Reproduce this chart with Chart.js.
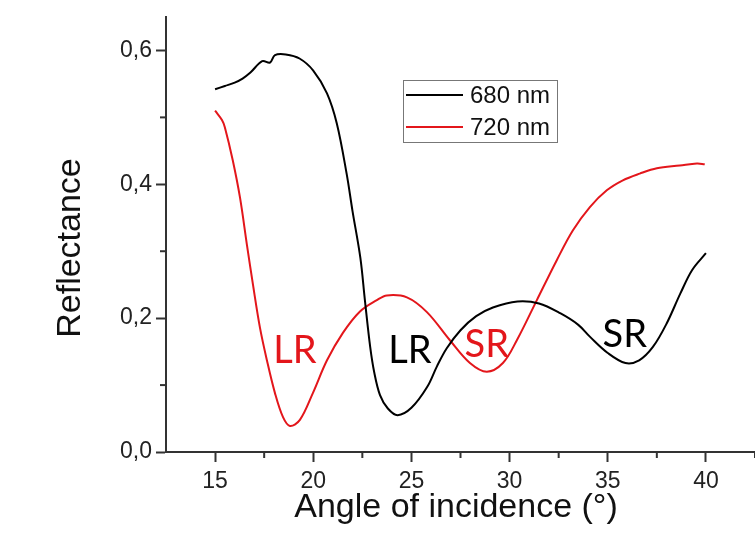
<!DOCTYPE html>
<html>
<head>
<meta charset="utf-8">
<title>Reflectance vs angle</title>
<script src="https://cdn.jsdelivr.net/npm/chart.js@4.4.1/dist/chart.umd.min.js"></script>
<style>
  html, body { margin: 0; padding: 0; background: #fff; }
  #wrap { width: 755px; height: 549px; }
</style>
</head>
<body>
<div id="wrap"><canvas id="refl"></canvas></div>
<script>
// 680 nm curve
const angle680 = [15.0, 15.5, 16.0, 16.4, 16.8, 17.4, 17.8, 18.05, 18.6, 19.3, 20.0, 20.7, 21.2, 21.7, 22.0, 22.4, 22.63, 22.9, 23.1, 23.4, 23.8, 24.3, 25.0, 25.8, 26.3, 26.8, 27.5, 28.3, 29.15, 30.4, 31.5, 32.6, 33.5, 34.1, 35.0, 35.9, 36.6, 37.3, 38.0, 38.7, 39.3, 40.0];
const refl680  = [0.542, 0.547, 0.552, 0.558, 0.567, 0.584, 0.582, 0.593, 0.594, 0.588, 0.570, 0.536, 0.491, 0.416, 0.36, 0.29, 0.227, 0.157, 0.12, 0.085, 0.065, 0.055, 0.066, 0.097, 0.128, 0.155, 0.182, 0.203, 0.216, 0.225, 0.222, 0.207, 0.19, 0.172, 0.148, 0.133, 0.137, 0.157, 0.192, 0.237, 0.272, 0.297];

// 720 nm curve
const angle720 = [15.0, 15.35, 15.5, 15.9, 16.27, 16.62, 16.93, 17.29, 17.64, 18.05, 18.46, 18.81, 19.32, 19.98, 20.7, 21.51, 22.38, 23.24, 23.75, 24.77, 25.79, 26.96, 27.98, 28.84, 29.66, 30.37, 31.39, 32.41, 33.22, 34.09, 34.95, 35.77, 36.63, 37.5, 38.67, 39.54, 39.94];
const refl720  = [0.51, 0.496, 0.485, 0.436, 0.38, 0.31, 0.25, 0.185, 0.137, 0.088, 0.052, 0.039, 0.048, 0.088, 0.137, 0.178, 0.21, 0.227, 0.234, 0.231, 0.209, 0.167, 0.133, 0.12, 0.133, 0.167, 0.227, 0.287, 0.331, 0.366, 0.391, 0.406, 0.416, 0.424, 0.428, 0.431, 0.43];

const seriesNames = ['680 nm', '720 nm'];
const seriesColors = ['#000000', '#e3161b'];

// resonance labels: text, angle, reflectance, which series colour
const resonanceText  = ['LR', 'LR', 'SR', 'SR'];
const resonanceAngle = [19.07, 24.92, 28.84, 35.87];
const resonanceRefl  = [0.151, 0.151, 0.161, 0.175];
const resonanceSerie = [1, 0, 1, 0];

const xMajor = [15, 20, 25, 30, 35, 40];

const axisFont = 'Liberation Sans, Arial, sans-serif';

function pontos(xs, ys) {
    return xs.map((x, i) => ({ x: x, y: ys[i] }));
}

// minor ticks, legend box, axis titles and resonance labels
const extras = {
    id: 'extras',
    afterDraw(chart) {
        const ctx = chart.ctx;
        const xs = chart.scales.x;
        const ys = chart.scales.y;
        const area = chart.chartArea;

        ctx.save();
        // minor ticks
        ctx.strokeStyle = '#333';
        ctx.lineWidth = 2;
        for (let v = 17.5; v <= 42.5; v += 5) {
            const px = xs.getPixelForValue(v);
            ctx.beginPath();
            ctx.moveTo(px, area.bottom);
            ctx.lineTo(px, area.bottom + 6);
            ctx.stroke();
        }
        for (let v = 0.1; v < 0.65; v += 0.2) {
            const py = ys.getPixelForValue(v);
            ctx.beginPath();
            ctx.moveTo(area.left, py);
            ctx.lineTo(area.left - 6, py);
            ctx.stroke();
        }

        // axis titles
        ctx.fillStyle = '#111';
        ctx.font = '34px ' + axisFont;
        ctx.textAlign = 'center';
        ctx.textBaseline = 'alphabetic';
        ctx.fillText('Angle of incidence (°)', 456, 517);
        ctx.save();
        ctx.translate(80, 248);
        ctx.rotate(-Math.PI / 2);
        ctx.fillText('Reflectance', 0, 0);
        ctx.restore();

        // legend
        const lx = 403, ly = 80, lw = 154, lh = 62;
        ctx.strokeStyle = '#777';
        ctx.lineWidth = 1;
        ctx.strokeRect(lx + 0.5, ly + 0.5, lw, lh);
        ctx.font = '24px ' + axisFont;
        ctx.textAlign = 'left';
        ctx.textBaseline = 'middle';
        seriesNames.forEach((nome, i) => {
            const yy = ly + 15 + i * 32;
            ctx.strokeStyle = seriesColors[i];
            ctx.lineWidth = 2;
            ctx.beginPath();
            ctx.moveTo(lx + 3, yy);
            ctx.lineTo(lx + 60, yy);
            ctx.stroke();
            ctx.fillStyle = '#111';
            ctx.fillText(nome, lx + 67, yy + 1);
        });

        // LR / SR labels
        ctx.font = '38px Lato, "Open Sans", sans-serif';
        ctx.textAlign = 'center';
        ctx.textBaseline = 'middle';
        resonanceText.forEach((t, i) => {
            ctx.fillStyle = seriesColors[resonanceSerie[i]];
            ctx.fillText(t, xs.getPixelForValue(resonanceAngle[i]), ys.getPixelForValue(resonanceRefl[i]));
        });
        ctx.restore();
    }
};

new Chart(document.getElementById('refl'), {
    type: 'line',
    data: {
        datasets: [
            {
                label: seriesNames[0],
                data: pontos(angle680, refl680),
                borderColor: seriesColors[0],
                borderWidth: 2,
                pointRadius: 0,
                tension: 0.35,
                fill: false
            },
            {
                label: seriesNames[1],
                data: pontos(angle720, refl720),
                borderColor: seriesColors[1],
                borderWidth: 2,
                pointRadius: 0,
                tension: 0.35,
                fill: false
            }
        ]
    },
    options: {
        responsive: true,
        maintainAspectRatio: false,
        animation: false,
        layout: { padding: { top: 17, right: 0, left: 0, bottom: 0 } },
        plugins: {
            legend: { display: false },
            tooltip: { enabled: false }
        },
        scales: {
            x: {
                type: 'linear',
                min: 12.5,
                max: 42.5,
                afterFit: s => { s.height = 97; s.paddingLeft = 0; s.paddingRight = 0; },
                border: { color: '#333', width: 2 },
                grid: {
                    drawOnChartArea: false,
                    tickLength: 10,
                    tickWidth: 2,
                    tickColor: c => xMajor.includes(c.tick.value) ? '#333' : 'rgba(0,0,0,0)'
                },
                ticks: {
                    stepSize: 2.5,
                    includeBounds: false,
                    maxRotation: 0,
                    autoSkip: false,
                    padding: 6,
                    color: '#222',
                    font: { family: axisFont, size: 23 },
                    callback: v => xMajor.includes(v) ? String(v) : ''
                }
            },
            y: {
                min: 0,
                max: 0.65,
                afterFit: s => { s.width = 166; s.paddingTop = 0; s.paddingBottom = 0; },
                border: { color: '#333', width: 2 },
                grid: {
                    drawOnChartArea: false,
                    tickLength: 10,
                    tickWidth: 2,
                    tickColor: c => Math.round(c.tick.value * 10) % 2 === 0 ? '#333' : 'rgba(0,0,0,0)'
                },
                ticks: {
                    stepSize: 0.1,
                    includeBounds: false,
                    autoSkip: false,
                    padding: 4,
                    color: '#222',
                    font: { family: axisFont, size: 23 },
                    callback: v => Math.round(v * 10) % 2 === 0 ? v.toFixed(1).replace('.', ',') : ''
                }
            }
        }
    },
    plugins: [extras]
});
</script>
</body>
</html>
